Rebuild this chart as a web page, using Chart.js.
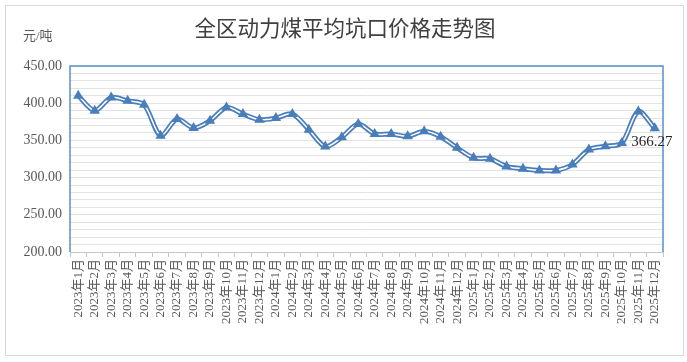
<!DOCTYPE html>
<html><head><meta charset="utf-8">
<script src="https://cdn.jsdelivr.net/npm/chart.js@4.4.1/dist/chart.umd.min.js"></script>
<style>html,body{margin:0;padding:0;background:#fff}#wrap{position:relative;width:687px;height:362px}</style>
</head><body><div id="wrap"><canvas id="c" width="687" height="362"></canvas></div>
<script>
const TITLE = "全区动力煤平均坑口价格走势图";
const UNIT = "元/吨";
const categories = [
  "2023年1月","2023年2月","2023年3月","2023年4月","2023年5月","2023年6月","2023年7月","2023年8月","2023年9月","2023年10月","2023年11月","2023年12月",
  "2024年1月","2024年2月","2024年3月","2024年4月","2024年5月","2024年6月","2024年7月","2024年8月","2024年9月","2024年10月","2024年11月","2024年12月",
  "2025年1月","2025年2月","2025年3月","2025年4月","2025年5月","2025年6月","2025年7月","2025年8月","2025年9月","2025年10月","2025年11月","2025年12月"
];
const prices = [410.0, 390.0, 407.6, 403.2, 397.9, 356.4, 378.7, 366.7, 376.5, 394.3, 385.4, 377.8,
                380.0, 385.4, 364.4, 341.7, 354.2, 372.0, 358.7, 358.7, 355.5, 362.2, 355.0, 340.0,
                326.6, 325.3, 315.0, 311.9, 309.6, 309.6, 317.6, 337.7, 342.1, 346.6, 388.9, 366.27];
const yMin = 200, yMax = 450, yStep = 10, yLabelStep = 50;

const BLUE = '#4a7ebb';
const serif = '"Liberation Serif","Times New Roman","Noto Sans CJK SC",serif';

const deco = {
  id: 'deco',
  beforeDraw(chart) {
    const ctx = chart.ctx;
    ctx.save();
    ctx.strokeStyle = '#d9d9d9'; ctx.lineWidth = 1;
    ctx.strokeRect(5.5, 5.5, 678, 350);
    ctx.fillStyle = '#404040';
    ctx.font = '21.5px "Noto Sans CJK SC", sans-serif';
    ctx.textAlign = 'center'; ctx.textBaseline = 'middle';
    ctx.fillText(TITLE, 345, 28);
    ctx.fillStyle = '#595959';
    ctx.font = '13px ' + serif;
    ctx.textAlign = 'left';
    ctx.fillText(UNIT, 23, 37);
    ctx.restore();
  },
  afterDatasetsDraw(chart) {
    const ctx = chart.ctx, a = chart.chartArea;
    ctx.save();
    ctx.strokeStyle = '#5b8fc7'; ctx.lineWidth = 1.5;
    ctx.beginPath();
    ctx.moveTo(a.left, a.bottom); ctx.lineTo(a.left, a.top); ctx.lineTo(a.right, a.top); ctx.lineTo(a.right, a.bottom);
    ctx.stroke();
    ctx.strokeStyle = '#bfc9d6'; ctx.lineWidth = 1;
    ctx.beginPath(); ctx.moveTo(a.left, a.bottom + 0.5); ctx.lineTo(a.right, a.bottom + 0.5); ctx.stroke();
    const meta = chart.getDatasetMeta(2);
    const p = meta.data[meta.data.length - 1];
    ctx.fillStyle = '#262626';
    ctx.font = '15px ' + serif;
    ctx.textAlign = 'center'; ctx.textBaseline = 'middle';
    ctx.fillText(prices[prices.length - 1].toFixed(2), p.x - 3, p.y + 14);
    ctx.restore();
  }
};

new Chart(document.getElementById('c'), {
  type: 'line',
  data: {
    labels: categories,
    datasets: [
      { data: prices, borderColor: BLUE, borderWidth: 5, pointRadius: 0, tension: 0.3, order: 3 },
      { data: prices, borderColor: '#ffffff', borderWidth: 1.5, pointRadius: 0, tension: 0.3, order: 2 },
      { data: prices, showLine: false, pointStyle: 'triangle', pointRadius: 6, pointBackgroundColor: BLUE, pointBorderColor: BLUE, pointBorderWidth: 0, order: 1 }
    ]
  },
  options: {
    responsive: false, animation: false, devicePixelRatio: 1,
    layout: { padding: { left: 10, right: 24, top: 66, bottom: 10 } },
    plugins: { legend: { display: false }, tooltip: { enabled: false }, title: { display: false } },
    scales: {
      x: {
        offset: true,
        grid: { display: true, drawOnChartArea: false, drawTicks: true, tickLength: 5, offset: true, color: '#bfc9d6' },
        border: { display: false },
        ticks: { autoSkip: false, maxRotation: 90, minRotation: 90, padding: 2, color: '#595959', font: { family: serif, size: 13 } },
        afterFit(s) { s.height = 100; }
      },
      y: {
        min: yMin, max: yMax,
        grid: { color: '#e3e3e3', drawTicks: false },
        border: { display: false },
        ticks: { stepSize: yStep, autoSkip: false, padding: 8, color: '#595959', font: { family: serif, size: 14 },
          callback: v => (v % yLabelStep === 0 ? v.toFixed(2) : '') },
        afterFit(s) { s.width = 60; }
      }
    }
  },
  plugins: [deco]
});
</script></body></html>
